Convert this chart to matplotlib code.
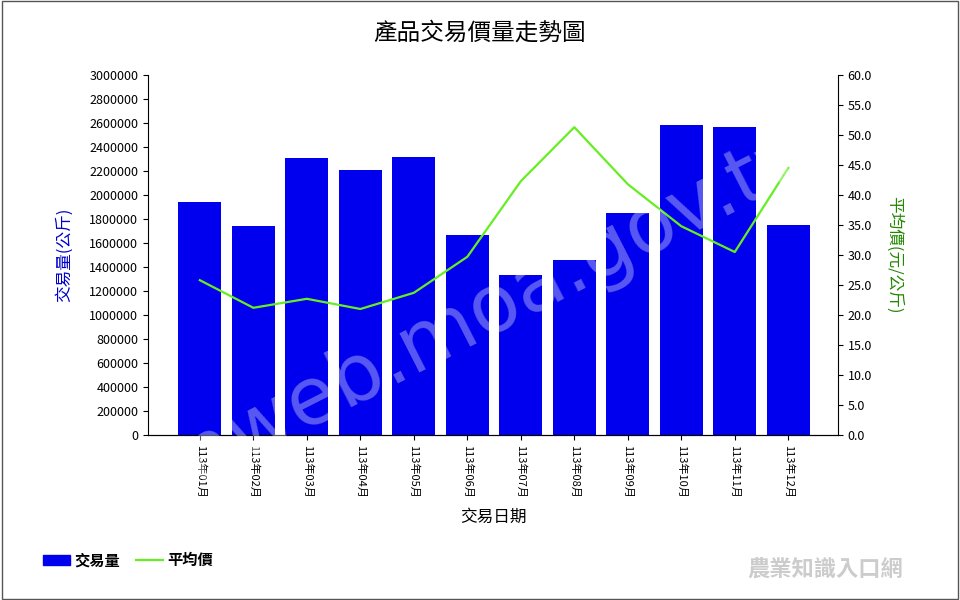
import matplotlib
matplotlib.use("Agg")
import matplotlib.pyplot as plt
from matplotlib.patches import Rectangle
from matplotlib.lines import Line2D

plt.rcParams['font.family'] = ['Noto Sans CJK TC', 'DejaVu Sans']

months = ["113年01月","113年02月","113年03月","113年04月","113年05月","113年06月",
          "113年07月","113年08月","113年09月","113年10月","113年11月","113年12月"]
volume = [1940000,1745000,2305000,2210000,2320000,1670000,1335000,1460000,1850000,2580000,2565000,1750000]
price = [25.8,21.2,22.7,21.0,23.7,29.7,42.3,51.3,41.8,34.8,30.5,44.5]

fig = plt.figure(figsize=(9.6,6.0), dpi=100)
fig.patches.append(Rectangle((0.002,0.002),0.996,0.996,transform=fig.transFigure,fill=False,ec='#555555',lw=1))
ax = fig.add_axes([148/960, 1-435/600, 690/960, 360/600])
x = list(range(len(months)))
ax.bar(x, volume, width=0.8, color='#0000ee', zorder=2)
ax.set_xlim(-0.97, 11.93)
ax.set_ylim(0, 3000000)
ax.set_yticks(range(0, 3000001, 200000))
ax.set_yticklabels([str(v) for v in range(0, 3000001, 200000)], fontsize=9)
ax.set_xticks(x)
ax.set_xticklabels(months, rotation=-90, fontsize=8)
for s in ['top','right']:
    ax.spines[s].set_visible(False)
ax.set_ylabel('交易量(公斤)', color='#0000cc', fontsize=12, labelpad=12)
ax.set_xlabel('交易日期', fontsize=12, labelpad=8)
ax2 = ax.twinx()
ax2.plot(x, price, color='#66ee22', lw=1.6, zorder=3)
ax2.set_ylim(0, 60)
ax2.set_yticks([i*5 for i in range(13)])
ax2.set_yticklabels([f"{i*5:.1f}" for i in range(13)], fontsize=9)
ax2.spines['top'].set_visible(False)
ax2.spines['left'].set_visible(False)
ax2.set_ylabel('平均價(元/公斤)', color='#228800', fontsize=12, rotation=-90, labelpad=22)
fig.text(0.5, 1-33/600, '產品交易價量走勢圖', ha='center', va='center', fontsize=17)
fig.text(0.49, 0.47, 'kmweb.moa.gov.tw', rotation=27, fontsize=58, color='white', alpha=0.35,
         ha='center', va='center', family='DejaVu Sans', zorder=10)
fig.legend(handles=[Rectangle((0,0),1,1,color='#0000ee'), Line2D([0],[0],color='#66ee22',lw=1.6)],
           labels=['交易量','平均價'], loc='lower left', bbox_to_anchor=(0.03,0.03), ncol=2,
           frameon=False, prop={'size':11, 'weight':'bold'}, handlelength=1.8, handletextpad=0.3,
           columnspacing=1.0)
fig.text(0.86, 0.05, '農業知識入口網', ha='center', va='center', fontsize=16, color='#cccccc', weight='bold')
fig.savefig('out.png', dpi=100)
